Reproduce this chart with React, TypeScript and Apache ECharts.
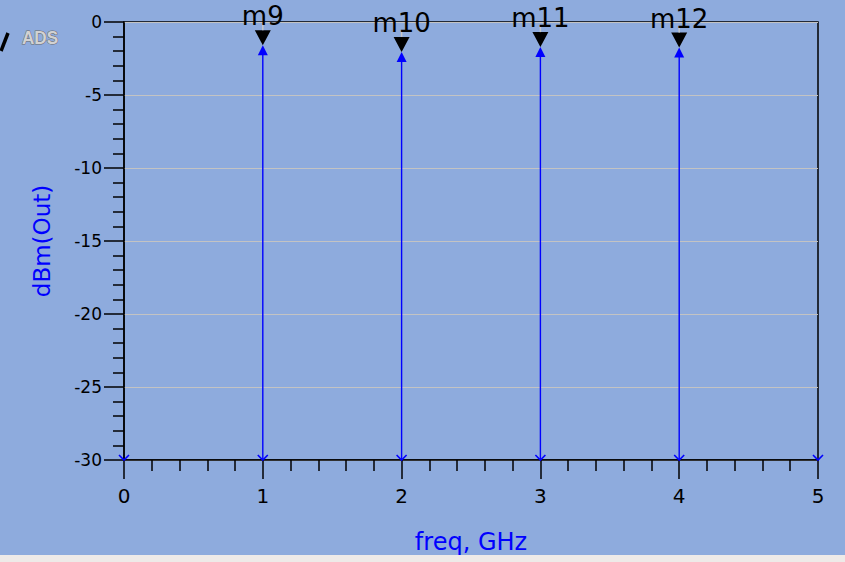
import { useEffect, useRef } from "react";
import * as echarts from "echarts";

// Spectrum of the output node: one line per harmonic, markers on the visible tones.
const freqGHz = [1, 2, 3, 4];
const powerDbm = [-1.6, -2.05, -1.72, -1.75];
const markerNames = ["m9", "m10", "m11", "m12"];
// All harmonics of the sweep; those below the axis floor show only the arrow tail.
const harmonicFreqs = [0, 1, 2, 3, 4, 5];

const X_MIN = 0;
const X_MAX = 5;
const Y_MIN = -30;
const Y_MAX = 0;

const BLUE = "#0000ff";
const FONT = "DejaVu Sans";

export default function App() {
  const ref = useRef<HTMLDivElement>(null);

  useEffect(() => {
    document.body.style.margin = "0";
    if (!ref.current) return;
    const chart = echarts.init(ref.current, undefined, { renderer: "svg" });

    const option: any = {
      animation: false,
      backgroundColor: "#8eabdd",
      textStyle: { fontFamily: FONT },
      grid: {
        left: 124,
        right: 27,
        top: 22,
        bottom: 102,
        show: true,
        borderColor: "#000",
        borderWidth: 1.5,
        backgroundColor: "transparent",
        containLabel: false,
        outerBoundsMode: "none",
      },
      xAxis: {
        type: "value",
        min: X_MIN,
        max: X_MAX,
        interval: 1,
        name: "freq, GHz",
        nameLocation: "middle",
        nameGap: 70,
        nameTextStyle: { color: BLUE, fontSize: 24, fontFamily: FONT },
        axisLine: { show: true, onZero: false, lineStyle: { color: "#000", width: 1.5 } },
        axisTick: { show: true, length: 19, lineStyle: { color: "#000", width: 1.5 } },
        minorTick: { show: true, splitNumber: 5, length: 11, lineStyle: { color: "#000", width: 1.5 } },
        axisLabel: { color: "#000", fontSize: 20, margin: 26, fontFamily: FONT },
        splitLine: { show: false },
      },
      yAxis: {
        type: "value",
        min: Y_MIN,
        max: Y_MAX,
        interval: 5,
        name: "dBm(Out)",
        nameLocation: "middle",
        nameGap: 71,
        nameTextStyle: { color: BLUE, fontSize: 23, fontFamily: FONT },
        axisLine: { show: true, onZero: false, lineStyle: { color: "#000", width: 1.5 } },
        axisTick: { show: true, length: 20, lineStyle: { color: "#000", width: 1.5 } },
        minorTick: { show: true, splitNumber: 5, length: 11, lineStyle: { color: "#000", width: 1.5 } },
        axisLabel: { color: "#000", fontSize: 17, margin: 22, fontFamily: FONT },
        splitLine: { show: true, lineStyle: { color: "#c3c3c3", width: 1 } },
      },
      graphic: [
        {
          type: "line",
          shape: { x1: 1, y1: 51, x2: 8, y2: 33 },
          style: { stroke: "#000", lineWidth: 3.5 },
        },
        {
          type: "text",
          x: 22,
          y: 38,
          scaleX: 0.9,
          style: {
            text: "ADS",
            fontFamily: "Liberation Sans",
            fontWeight: "bold",
            fontSize: 19,
            fill: "#d2d2d2",
            stroke: "#6a6a6a",
            lineWidth: 1,
            verticalAlign: "middle",
          },
        },
        {
          type: "rect",
          shape: { x: 0, y: 555, width: 845, height: 7 },
          style: { fill: "#eeeae8" },
        },
      ],
      series: [
        {
          // arrow tails sitting on the axis floor
          type: "custom",
          clip: false,
          data: harmonicFreqs.map((f) => [f, Y_MIN]),
          renderItem: (_params: any, api: any) => {
            const p = api.coord([api.value(0), api.value(1)]);
            return {
              type: "polyline",
              shape: {
                points: [
                  [p[0] - 5, p[1] - 5],
                  [p[0], p[1]],
                  [p[0] + 5, p[1] - 5],
                ],
              },
              style: { stroke: BLUE, lineWidth: 1.6, fill: null },
              z2: 10,
            };
          },
        },
        {
          // spectral lines with their marker readouts
          type: "custom",
          clip: false,
          data: freqGHz.map((f, i) => [f, powerDbm[i]]),
          renderItem: (params: any, api: any) => {
            const f = api.value(0);
            const v = api.value(1);
            const base = api.coord([f, Y_MIN]);
            const top = api.coord([f, v]);
            const cx = top[0];
            const cy = top[1];
            return {
              type: "group",
              children: [
                {
                  type: "line",
                  shape: { x1: base[0], y1: base[1], x2: cx, y2: cy + 9 },
                  style: { stroke: BLUE, lineWidth: 1.4 },
                },
                {
                  type: "polygon",
                  shape: { points: [[cx, cy], [cx - 5, cy + 10], [cx + 5, cy + 10]] },
                  style: { fill: BLUE },
                },
                {
                  type: "polygon",
                  shape: { points: [[cx - 8, cy - 15], [cx + 8, cy - 15], [cx, cy]] },
                  style: { fill: "#000" },
                },
                {
                  type: "line",
                  shape: { x1: cx, y1: cy - 21, x2: cx, y2: cy - 15 },
                  style: { stroke: "#c8c8c8", lineWidth: 1.5 },
                },
                {
                  type: "text",
                  x: cx,
                  y: cy - 29,
                  style: {
                    text: markerNames[params.dataIndex],
                    fontFamily: FONT,
                    fontSize: 26,
                    fill: "#000",
                    align: "center",
                    verticalAlign: "middle",
                  },
                },
              ],
            };
          },
        },
      ],
    };

    chart.setOption(option);
    return () => chart.dispose();
  }, []);

  return (
    <div
      ref={ref}
      style={{ position: "fixed", left: 0, top: 0, width: 845, height: 562 }}
    />
  );
}
